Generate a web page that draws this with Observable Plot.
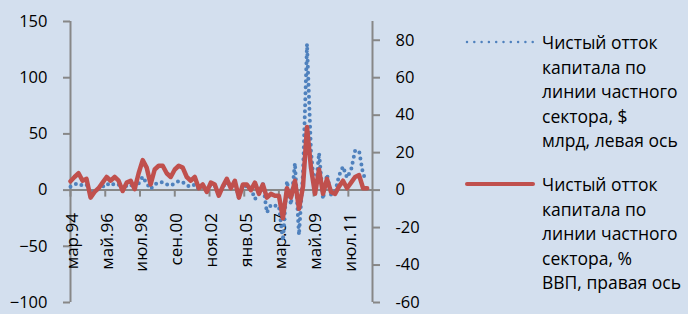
<!DOCTYPE html>
<html><head><meta charset="utf-8">
<script src="https://cdn.jsdelivr.net/npm/d3@7"></script>
<script src="https://cdn.jsdelivr.net/npm/@observablehq/plot@0.6"></script>
<style>
html,body{margin:0;padding:0;background:#d3dfee;}
#wrap{position:relative;width:688px;height:314px;overflow:hidden;background:#d3dfee;font-family:"Open Sans",sans-serif;}
#chart{position:absolute;left:0;top:0;}
#legend{position:absolute;left:465px;top:0;width:223px;height:314px;}
.item{position:absolute;left:0;width:223px;}
.item svg{position:absolute;left:0;top:7px;}
.item .txt{position:absolute;left:77px;top:0;font-size:17.5px;line-height:24.5px;color:#000;white-space:nowrap;}
</style></head>
<body><div id="wrap"><div id="chart"></div><div id="legend"></div></div>
<script>
// Quarterly data, Q1 1994 .. Q3 2012
const firstYear = 1994;
const firstMonth = 3;
// Net private capital outflow, $ bn (left axis)
const outflowUSD = [
  3, 5, 6, 4, 5, -3, -1, 1, 3, 6, 4, 6, 5, 0, 4, 5, 1, 6, 12, 6,
  1, 5, 7, 7, 5, 4, 6, 8, 7, 4, 3, 5, 1, 3, -1, 5, 4, -3, 3, 7,
  2, 8, -7, 5, 3, 2, -8, -3, 6, -20, -13, -14, -14, -45, 8, -13, 24, -40, 16, 130,
  35, -5, 33, -8, 14, -4, -2, 13, 21, 11, 18, 35, 35, 14, 8
];
// Net private capital outflow, % of GDP (right axis)
const outflowGDP = [
  4.7, 7, 9, 5, 6, -4, -1, 1, 4, 7, 5, 7, 5, -0.5, 4, 5, 0.5, 9, 16, 12,
  3, 11, 13, 13, 9, 7, 11, 13, 12, 7, 5, 7, 1, 3, -1, 4, 3, -3, 2, 6,
  1, 5, -4, 3, 3, 0, 4, -2, 3, -4, -2, -3, -3, -15, 1, -4, 5, -10, 2, 33.7,
  12, -2, 11, -2, 6, -1, -2, 2, 5, 1, 4, 7, 8, 1, 1
];
const tickMonths = ["1994-03","1996-05","1998-07","2000-09","2002-11","2005-01","2007-03","2009-05","2011-07"];
const tickLabels = ["мар.94","май.96","июл.98","сен.00","ноя.02","янв.05","мар.07","май.09","июл.11"];
const leftTicks = [-100, -50, 0, 50, 100, 150];
const rightTicks = [-60, -40, -20, 0, 20, 40, 60, 80];
const leftDomain = [-100, 150];
const rightDomain = [-60, 90];
const xStart = "1994-03";
const xEnd = "2013-01";
const legendBlue = ["Чистый отток","капитала по","линии частного","сектора, $","млрд, левая ось"];
const legendRed = ["Чистый отток","капитала по","линии частного","сектора, %","ВВП, правая ось"];

const parseMonth = d3.utcParse("%Y-%m");
const k = (leftDomain[1] - leftDomain[0]) / (rightDomain[1] - rightDomain[0]);
const data = outflowUSD.map((v, i) => ({
  date: new Date(Date.UTC(firstYear, firstMonth - 1 + 3 * i, 1)),
  usd: v,
  gdp: outflowGDP[i]
}));
const tickDates = tickMonths.map(parseMonth);
const xDomain = [parseMonth(xStart), parseMonth(xEnd)];
const axisGray = "#878787";

const chart = Plot.plot({
  width: 420, height: 314,
  marginLeft: 70, marginRight: 48, marginTop: 21, marginBottom: 12,
  style: {background: "transparent", fontFamily: "Open Sans, sans-serif", fontSize: "16px", color: "#000"},
  x: {type: "utc", domain: xDomain, axis: null},
  y: {domain: leftDomain, axis: null},
  marks: [
    Plot.ruleX([xDomain[0]], {y1: leftDomain[0], y2: leftDomain[1], stroke: axisGray, strokeWidth: 2}),
    Plot.ruleX([xDomain[1]], {y1: leftDomain[0], y2: leftDomain[1], stroke: axisGray, strokeWidth: 2}),
    Plot.ruleY([0], {stroke: axisGray, strokeWidth: 2}),
    Plot.axisY(leftTicks, {anchor: "left", tickSize: 7, tickPadding: 16, stroke: axisGray, strokeWidth: 2, fill: "#000", fontSize: 16.5, label: null}),
    Plot.axisY(rightTicks.map(v => v * k), {anchor: "right", tickSize: 7, tickPadding: 16, stroke: axisGray, strokeWidth: 2, fill: "#000", fontSize: 16.5, label: null, tickFormat: d => String(Math.round(d / k))}),
    Plot.ruleX(tickDates, {x: d => d, y1: 0, y2: 0, insetBottom: -7, stroke: axisGray, strokeWidth: 2}),
    Plot.text(tickDates, {x: d => d, y: () => 0, text: (d, i) => tickLabels[i], rotate: -90, textAnchor: "end", dy: 23, dx: 2, fontSize: 17, fill: "#000"}),
    Plot.line(data, {x: "date", y: "usd", stroke: "#4f81bd", strokeWidth: 4, strokeDasharray: "0 6", strokeLinecap: "round"}),
    Plot.line(data, {x: "date", y: d => d.gdp * k, stroke: "#c0504d", strokeWidth: 4.5})
  ]
});
document.getElementById("chart").appendChild(chart);

// Legend
const legend = d3.select("#legend");
function addItem(top, lines, color, width, dash) {
  const item = legend.append("div").attr("class", "item").style("top", top + "px");
  const svg = item.append("svg").attr("width", 72).attr("height", 10);
  const l = svg.append("line").attr("x1", 2).attr("x2", 68).attr("y1", 5).attr("y2", 5)
    .attr("stroke", color).attr("stroke-width", width).attr("stroke-linecap", "round");
  if (dash) l.attr("stroke-dasharray", dash);
  const txt = item.append("div").attr("class", "txt");
  lines.forEach(s => txt.append("div").text(s));
}
addItem(30, legendBlue, "#4f81bd", 2.5, "0 7.3");
addItem(172, legendRed, "#c0504d", 4, null);
</script>
</body></html>
